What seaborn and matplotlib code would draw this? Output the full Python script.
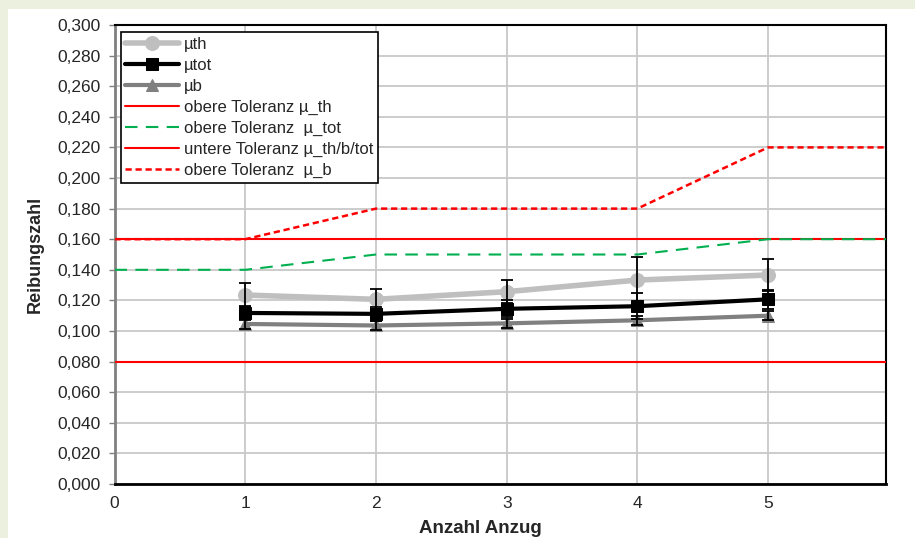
import pandas as pd
import matplotlib.pyplot as plt
import seaborn as sns
from matplotlib.ticker import FuncFormatter, MultipleLocator
from matplotlib.patches import Rectangle

anzug = [1, 2, 3, 4, 5]
mu_th = [0.1235, 0.1207, 0.1257, 0.1333, 0.1366]
mu_th_err = [0.0078, 0.0066, 0.0076, 0.0149, 0.0106]
mu_tot = [0.1118, 0.1112, 0.1145, 0.1162, 0.1207]
mu_tot_err = [0.0045, 0.0045, 0.0055, 0.0085, 0.0060]
mu_b = [0.1046, 0.1036, 0.1050, 0.1070, 0.1100]
mu_b_err = [0.0030, 0.0030, 0.0030, 0.0030, 0.0030]

tol_x = [0, 1, 2, 3, 4, 5, 6]
tol_th_oben = [0.160, 0.160, 0.160, 0.160, 0.160, 0.160, 0.160]
tol_tot_oben = [0.140, 0.140, 0.150, 0.150, 0.150, 0.160, 0.160]
tol_unten = [0.080, 0.080, 0.080, 0.080, 0.080, 0.080, 0.080]
tol_b_oben = [0.160, 0.160, 0.180, 0.180, 0.180, 0.220, 0.220]

sns.set_theme(style="white")
plt.rcParams["font.family"] = ["Liberation Sans", "DejaVu Sans"]

fig = plt.figure(figsize=(9.15, 5.38), dpi=100)
fig.patch.set_facecolor("#EBF1DE")
fig.patches.append(Rectangle((8 / 915, 0), 1, 1 - 9 / 538, transform=fig.transFigure,
                             facecolor="white", edgecolor="none", zorder=-10))
ax = fig.add_axes([0.1252, 0.1004, 0.968 - 0.1252, 0.9535 - 0.1004])
ax.set_facecolor("white")

df = pd.DataFrame({"x": anzug, "th": mu_th, "tot": mu_tot, "b": mu_b})
tol = pd.DataFrame({"x": tol_x, "th": tol_th_oben, "tot": tol_tot_oben,
                    "unten": tol_unten, "b": tol_b_oben})

sns.lineplot(data=df, x="x", y="th", ax=ax, color="#BFBFBF", lw=4, marker="o",
             markersize=10, markeredgecolor="#BFBFBF", label="µth", zorder=5)
sns.lineplot(data=df, x="x", y="tot", ax=ax, color="black", lw=3, marker="s",
             markersize=9, markeredgecolor="black", label="µtot", zorder=6)
sns.lineplot(data=df, x="x", y="b", ax=ax, color="#808080", lw=3, marker="^",
             markersize=9, markeredgecolor="#808080", label="µb", zorder=5)

sns.lineplot(data=tol, x="x", y="th", ax=ax, color="#FF0000", lw=1.5,
             label="obere Toleranz µ_th", zorder=3)
sns.lineplot(data=tol, x="x", y="tot", ax=ax, color="#00B050", lw=1.5,
             label="obere Toleranz  µ_tot", zorder=3)
ax.lines[-1].set_dashes([6, 4])
sns.lineplot(data=tol, x="x", y="unten", ax=ax, color="#FF0000", lw=1.5,
             label="untere Toleranz µ_th/b/tot", zorder=3)
sns.lineplot(data=tol, x="x", y="b", ax=ax, color="#FF0000", lw=1.8,
             label="obere Toleranz  µ_b", zorder=3)
ax.lines[-1].set_dashes([2.5, 1.5])

for vals, errs in [(mu_th, mu_th_err), (mu_tot, mu_tot_err), (mu_b, mu_b_err)]:
    ax.errorbar(anzug, vals, yerr=errs, fmt="none", ecolor="black", elinewidth=1.3,
                capsize=4, capthick=1.3, zorder=7)

ax.set_xlim(0, 5.9)
ax.set_ylim(0, 0.3)
ax.xaxis.set_major_locator(MultipleLocator(1))
ax.yaxis.set_major_locator(MultipleLocator(0.02))
ax.yaxis.set_major_formatter(FuncFormatter(lambda v, p: f"{v:.3f}".replace(".", ",")))
ax.grid(True, color="#C8C8C8", lw=1.3)
ax.set_axisbelow(True)
ax.tick_params(axis="y", length=4, width=1, color="#808080", labelsize=12.5, pad=6, left=True)
ax.tick_params(axis="x", length=0, labelsize=12.5, pad=9)
for s in ["top", "right", "bottom"]:
    ax.spines[s].set_color("black")
    ax.spines[s].set_linewidth(1.5)
ax.spines["bottom"].set_linewidth(2)
ax.spines["left"].set_color("#808080")
ax.spines["left"].set_linewidth(2)

ax.set_xlabel("Anzahl Anzug", fontsize=13.5, fontweight="bold")
ax.xaxis.set_label_coords(0.475, -0.096, transform=ax.transAxes)
ax.xaxis.label.set_va("center")
ax.set_ylabel("Reibungszahl", fontsize=13, fontweight="bold", labelpad=10)

leg = ax.legend(loc="upper left", bbox_to_anchor=(0.008, 0.985), fontsize=12,
                frameon=True, fancybox=False, handlelength=3.2, handletextpad=0.3,
                labelspacing=0.36, borderpad=0.28, borderaxespad=0)
leg.get_frame().set_edgecolor("black")
leg.get_frame().set_linewidth(1.2)
leg.get_frame().set_alpha(1)

plt.savefig("out.png", dpi=100, facecolor=fig.get_facecolor())
